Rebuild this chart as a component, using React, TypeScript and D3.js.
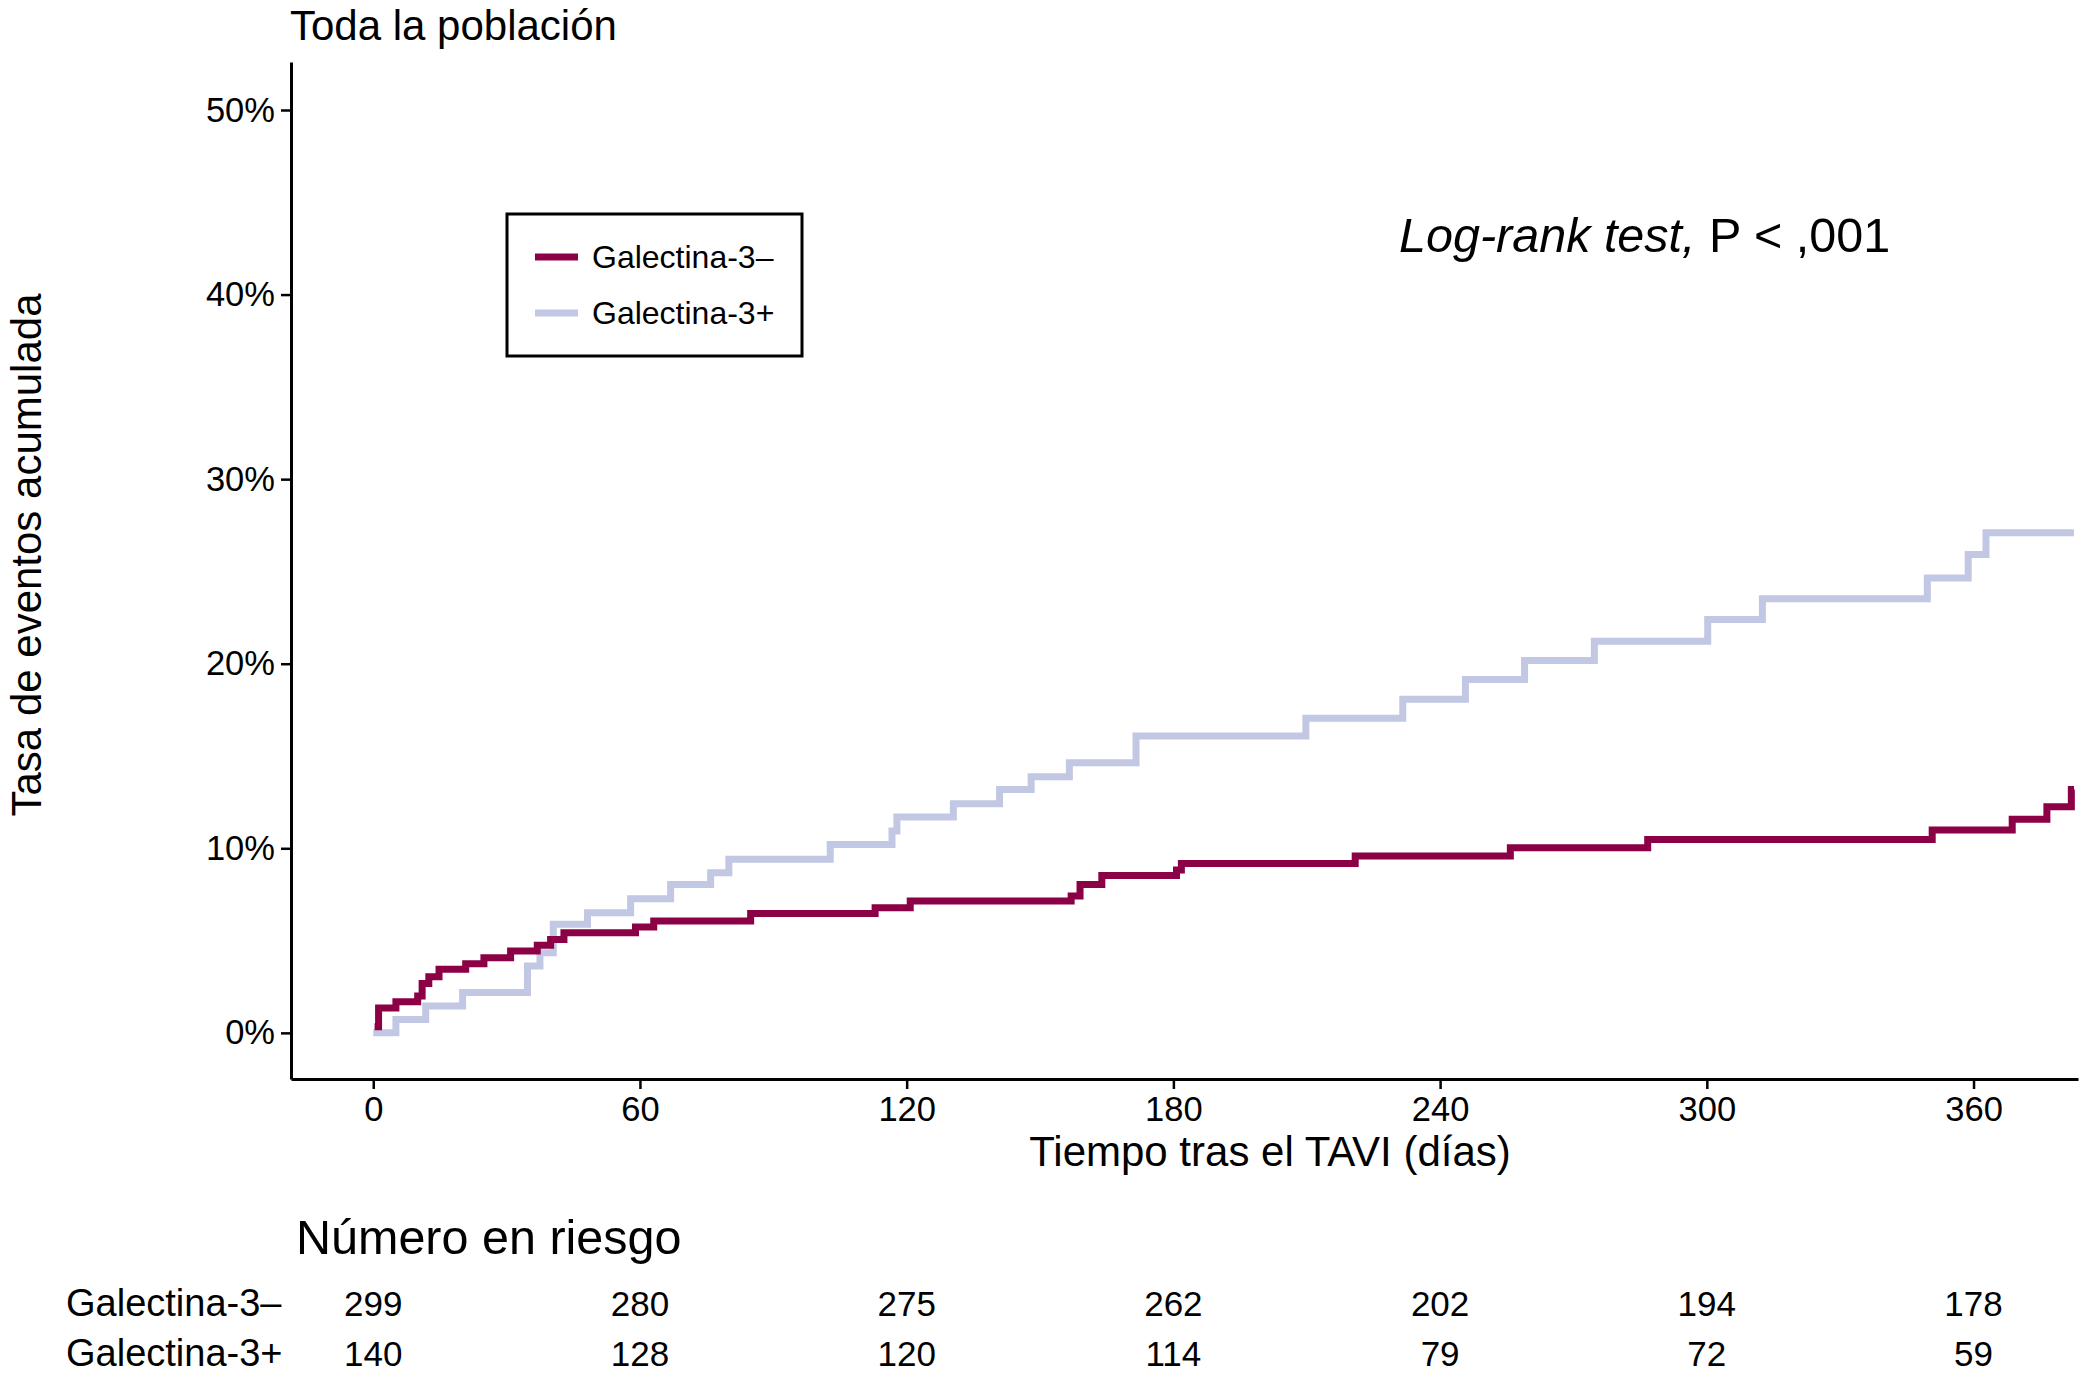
import { useEffect, useRef } from 'react';
import * as d3 from 'd3';

// Kaplan-Meier style cumulative event curves (day, % after step)
const galMinus: [number, number][] = [
    [0.3, 0.33], [1.2, 1.34], [5.1, 1.69], [10, 2.0], [11, 2.68], [12.5, 3.04],
    [14.8, 3.44], [20.8, 3.75], [24.9, 4.07], [30.9, 4.43], [36.9, 4.74], [39.9, 5.06],
    [42.9, 5.43], [59, 5.73], [63.1, 6.06], [84.9, 6.46], [112.9, 6.78], [120.8, 7.14],
    [157, 7.41], [159, 8.04], [163.9, 8.53], [180.7, 8.82], [181.8, 9.18], [220.9, 9.58],
    [255.8, 10.03], [286.7, 10.48], [350.7, 10.99], [368.7, 11.57], [376.5, 12.25],
    [382, 13.19], [382.6, 13.19],
];

const galPlus: [number, number][] = [
    [0, 0], [5.1, 0.73], [11.8, 1.45], [20.1, 2.18], [34.7, 3.62], [37.5, 4.34],
    [40.5, 5.88], [48.2, 6.51], [57.9, 7.27], [66.9, 8.04], [75.9, 8.68], [80, 9.4],
    [102.8, 10.21], [116.7, 10.93], [117.8, 11.69], [130.5, 12.41], [140.9, 13.19],
    [148, 13.88], [156.6, 14.64], [171.6, 16.08], [209.8, 17.04], [231.6, 18.07],
    [245.7, 19.15], [259, 20.18], [274.7, 21.22], [300.2, 22.4], [312.5, 23.52],
    [349.6, 24.64], [358.8, 25.92], [362.8, 27.1], [382.6, 27.1],
];

const xTicks = [0, 60, 120, 180, 240, 300, 360];
const yTicks = [0, 10, 20, 30, 40, 50];

const seriesNames = ['Galectina-3–', 'Galectina-3+'];
const seriesColors = ['#8c0046', '#c2c8e3'];

// numbers at risk at each x tick
const riskTimes = [0, 60, 120, 180, 240, 300, 360];
const riskMinus = [299, 280, 275, 262, 202, 194, 178];
const riskPlus = [140, 128, 120, 114, 79, 72, 59];

const FONT = '"Liberation Sans", Arial, Helvetica, sans-serif';

export default function App() {
    const ref = useRef<SVGSVGElement>(null);

    useEffect(() => {
        document.body.style.margin = '0';
        if (!ref.current) return;
        const svg = d3.select(ref.current);
        svg.selectAll('*').remove();

        const xScale = d3.scaleLinear().domain([-18.5, 383.5]).range([291, 2078]);
        const yScale = d3.scaleLinear().domain([-2.5, 52.6]).range([1079, 62]);

        // title
        svg.append('text')
            .attr('x', 290).attr('y', 40)
            .attr('font-size', 42)
            .text('Toda la población');

        // axes
        const yAxis = d3.axisLeft(yScale).tickValues(yTicks)
            .tickFormat(d => `${d}%`).tickSize(10).tickSizeOuter(0).tickPadding(6);
        const xAxis = d3.axisBottom(xScale).tickValues(xTicks)
            .tickFormat(d => `${d}`).tickSize(10).tickSizeOuter(0).tickPadding(8);

        const gy = svg.append('g').attr('transform', `translate(${xScale.range()[0]},0)`).call(yAxis);
        const gx = svg.append('g').attr('transform', `translate(0,${yScale.range()[0]})`).call(xAxis);
        [gy, gx].forEach(g => {
            g.select('.domain').attr('stroke', '#000').attr('stroke-width', 3);
            g.selectAll('.tick line').attr('stroke', '#000').attr('stroke-width', 2.5);
            g.selectAll('.tick text')
                .attr('fill', '#000')
                .attr('font-size', 34.5)
                .attr('font-family', FONT);
        });

        // axis titles
        svg.append('text')
            .attr('transform', `translate(41,555) rotate(-90)`)
            .attr('text-anchor', 'middle')
            .attr('font-size', 42)
            .text('Tasa de eventos acumulada');

        svg.append('text')
            .attr('x', 1270).attr('y', 1166)
            .attr('text-anchor', 'middle')
            .attr('font-size', 42)
            .text('Tiempo tras el TAVI (días)');

        // curves
        const line = d3.line<[number, number]>()
            .x(d => xScale(d[0]))
            .y(d => yScale(d[1]))
            .curve(d3.curveStepAfter);

        [galPlus, galMinus].forEach((data, i) => {
            svg.append('path')
                .datum(data)
                .attr('fill', 'none')
                .attr('stroke', seriesColors[1 - i])
                .attr('stroke-width', 7)
                .attr('d', line);
        });

        // legend
        const legend = svg.append('g');
        legend.append('rect')
            .attr('x', 507).attr('y', 214).attr('width', 295).attr('height', 142)
            .attr('fill', '#fff').attr('stroke', '#000').attr('stroke-width', 3);
        seriesNames.forEach((name, i) => {
            const y = 257 + i * 56;
            legend.append('line')
                .attr('x1', 535).attr('x2', 578).attr('y1', y).attr('y2', y)
                .attr('stroke', seriesColors[i]).attr('stroke-width', 7);
            legend.append('text')
                .attr('x', 592).attr('y', y + 11)
                .attr('font-size', 32)
                .text(name);
        });

        // log-rank annotation
        const ann = svg.append('text').attr('x', 1399).attr('y', 252).attr('font-size', 48.5);
        ann.append('tspan').attr('font-style', 'italic').text('Log-rank test,');
        ann.append('tspan').text(' P < ,001');

        // numbers at risk
        svg.append('text')
            .attr('x', 296).attr('y', 1254)
            .attr('font-size', 48.5)
            .text('Número en riesgo');

        [riskMinus, riskPlus].forEach((vals, r) => {
            const y = 1316 + r * 50;
            svg.append('text')
                .attr('x', 66).attr('y', y)
                .attr('font-size', 38)
                .text(seriesNames[r]);
            vals.forEach((v, j) => {
                svg.append('text')
                    .attr('x', xScale(riskTimes[j])).attr('y', y)
                    .attr('text-anchor', 'middle')
                    .attr('font-size', 35)
                    .text(v);
            });
        });
    }, []);

    return (
        <svg ref={ref} width={2085} height={1374}
            style={{ display: 'block', background: '#fff', fontFamily: FONT }} />
    );
}
